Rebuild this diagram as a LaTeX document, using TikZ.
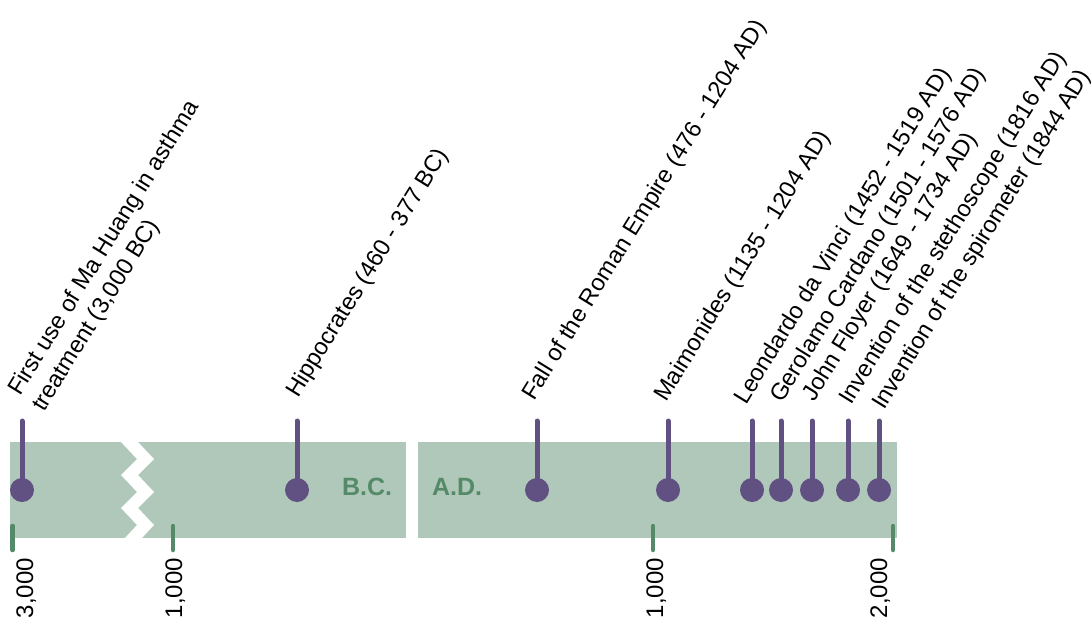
\documentclass[tikz,border=0pt]{standalone}
\usepackage{fontspec}
\setmainfont{Liberation Sans}
\definecolor{bandc}{RGB}{176,200,186}
\definecolor{greenc}{RGB}{84,138,104}
\definecolor{purplec}{RGB}{97,80,130}
\tikzset{
  evlabel/.style={rotate=58.3, anchor=base west, inner sep=0pt, font=\fontsize{23.6}{29}\selectfont, text=black},
  ticklabel/.style={rotate=90, anchor=base east, inner sep=0pt, font=\fontsize{24}{29}\selectfont, text=black},
  era/.style={anchor=base, inner sep=0pt, font=\fontsize{25}{30}\selectfont\bfseries, text=greenc},
  stem/.style={draw=purplec, line width=5pt, line cap=round},
  pinhead/.style={circle, fill=purplec, minimum size=24pt, inner sep=0pt},
  tickmark/.style={draw=greenc, line width=4.5pt, line cap=round}
}
\begin{document}
\begin{tikzpicture}[x=1pt,y=1pt]
\useasboundingbox (0,0) rectangle (1091,622);
% bands
\fill[bandc] (10,84) rectangle (406,180);
\fill[bandc] (418,84) rectangle (897,180);
% zigzag break
\fill[white] (120,181) -- (137,163) -- (121,147) -- (137,130) -- (121,114) -- (137,97) -- (124,83)
  -- (141,83) -- (154,97) -- (138,114) -- (154,130) -- (138,147) -- (154,163) -- (137,181) -- cycle;
% ticks
\coordinate (t1a) at (12.7,96); \coordinate (t1b) at (12.7,72);
\coordinate (t2a) at (173,96); \coordinate (t2b) at (173,72);
\coordinate (t3a) at (653,96); \coordinate (t3b) at (653,72);
\coordinate (t4a) at (893,96); \coordinate (t4b) at (893,72);
\draw[tickmark] (t1a) -- (t1b);
\draw[tickmark] (t2a) -- (t2b);
\draw[tickmark] (t3a) -- (t3b);
\draw[tickmark] (t4a) -- (t4b);
\node[ticklabel] (l1) at (33,64) {3,000};
\node[ticklabel] (l2) at (182,64) {1,000};
\node[ticklabel] (l3) at (663,64) {1,000};
\node[ticklabel] (l4) at (887,64) {2,000};
% eras
\node[era] (bc) at (367,127) {B.C.};
\node[era] (ad) at (457,127) {A.D.};
% pins
\foreach \n/\x in {p1/22, p2/297, p3/537, p4/668, p5/752, p6/781, p7/812, p8/848, p9/879}{
  \coordinate (\n top) at (\x,201);
  \node[pinhead] (\n) at (\x,132) {};
  \draw[stem] (\n top) -- (\n.center);
}
% labels
\node[evlabel] (e1a) at (20,225) {First use of Ma Huang in asthma};
\node[evlabel] (e1b) at (44,209) {treatment (3,000 BC)};
\node[evlabel] (e2) at (298,223) {Hippocrates (460 - 377 BC)};
\node[evlabel] (e3) at (534,220) {Fall of the Roman Empire (476 - 1204 AD)};
\node[evlabel] (e4) at (666,219) {Maimonides (1135 - 1204 AD)};
\node[evlabel] (e5) at (746,216) {Leondardo da Vinci (1452 - 1519 AD)};
\node[evlabel] (e6) at (782,218) {Gerolamo Cardano (1501 - 1576 AD)};
\node[evlabel] (e7) at (814,219) {John Floyer (1649 - 1734 AD)};
\node[evlabel] (e8) at (851,216) {Invention of the stethoscope (1816 AD)};
\node[evlabel] (e9) at (884,211) {Invention of the spirometer (1844 AD)};
\end{tikzpicture}
\end{document}
